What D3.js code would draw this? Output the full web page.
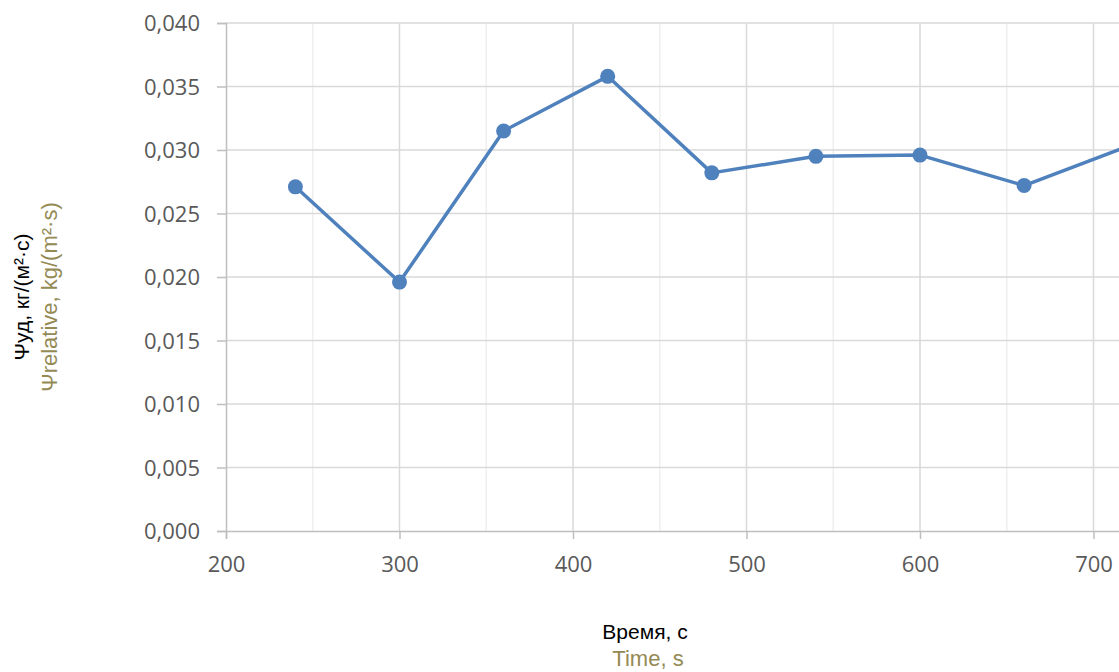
<!DOCTYPE html>
<html><head><meta charset="utf-8">
<script src="https://cdn.jsdelivr.net/npm/d3@7"></script>
<style>body{margin:0;background:#fff;} svg{display:block;}</style>
</head><body>
<svg id="chart" width="1119" height="672"></svg>
<script>
const times = [240, 300, 360, 420, 480, 540, 600, 660, 720];
const psi = [0.0271, 0.0196, 0.0315, 0.0358, 0.0282, 0.0295, 0.0296, 0.0272, 0.0303];
const xMajorTicks = [200, 300, 400, 500, 600, 700];
const xGridMajor = [300, 400, 500, 600, 700, 800];
const xMinorTicks = [250, 350, 450, 550, 650, 750];
const yTicks = [0, 0.005, 0.010, 0.015, 0.020, 0.025, 0.030, 0.035, 0.040];
const yTitleRu = "Ψуд, кг/(м²·с)";
const yTitleEn = "Ψrelative, kg/(m²·s)";
const xTitleRu = "Время, с";
const xTitleEn = "Time, s";

const svg = d3.select("#chart");
const font = "'Open Sans', 'Liberation Sans', Arial, sans-serif";
const titleFont = "'Liberation Sans', Arial, sans-serif";
const x = d3.scaleLinear().domain([200, 800]).range([226, 226 + 6 * 173.5]);
const y = d3.scaleLinear().domain([0, 0.04]).range([531, 23]);

// minor vertical gridlines
svg.append("g").selectAll("line").data(xMinorTicks).join("line")
  .attr("x1", d => x(d)).attr("x2", d => x(d)).attr("y1", y(0)).attr("y2", y(0.04))
  .attr("stroke", "#efefef").attr("stroke-width", 1.5);
// major vertical gridlines
svg.append("g").selectAll("line").data(xGridMajor).join("line")
  .attr("x1", d => x(d)).attr("x2", d => x(d)).attr("y1", y(0)).attr("y2", y(0.04))
  .attr("stroke", "#d9d9d9").attr("stroke-width", 1.5);
// horizontal gridlines
svg.append("g").selectAll("line").data(yTicks.slice(1)).join("line")
  .attr("x1", x(200)).attr("x2", 1119).attr("y1", d => y(d)).attr("y2", d => y(d))
  .attr("stroke", "#d9d9d9").attr("stroke-width", 1.5);

// axes
const fmt = d => d3.format(".3f")(d).replace(".", ",");
const yAxis = svg.append("g").attr("transform", `translate(${x(200)},0)`)
  .call(d3.axisLeft(y).tickValues(yTicks).tickFormat(fmt).tickSize(9).tickPadding(17));
const xAxis = svg.append("g").attr("transform", `translate(0,${y(0)})`)
  .call(d3.axisBottom(x).tickValues(xMajorTicks).tickFormat(d3.format("d")).tickSize(8).tickPadding(17));
[xAxis, yAxis].forEach(g => {
  g.select(".domain").attr("stroke", "#bfbfbf").attr("stroke-width", 1.5);
  g.selectAll(".tick line").attr("stroke", "#bfbfbf").attr("stroke-width", 1.5);
  g.selectAll("text").attr("fill", "#595959").style("font-family", font).style("font-size", "22px");
});
yAxis.selectAll("text").attr("dy", "0.35em");

// line and markers
const line = d3.line().x((d, i) => x(times[i])).y(d => y(d));
svg.append("path").datum(psi).attr("d", line)
  .attr("fill", "none").attr("stroke", "#4F81BD").attr("stroke-width", 3.5).attr("stroke-linejoin", "round");
svg.append("g").selectAll("circle").data(psi).join("circle")
  .attr("cx", (d, i) => x(times[i])).attr("cy", d => y(d)).attr("r", 7.5)
  .attr("fill", "#4F81BD");

// titles
svg.append("text").attr("transform", "translate(29,297) rotate(-90)")
  .attr("text-anchor", "middle").style("font-family", titleFont).style("font-size", "21px")
  .attr("fill", "#000").text(yTitleRu);
svg.append("text").attr("transform", "translate(57,297) rotate(-90)")
  .attr("text-anchor", "middle").style("font-family", titleFont).style("font-size", "22px")
  .attr("fill", "#948A54").text(yTitleEn);

svg.append("text").attr("x", 645).attr("y", 639)
  .attr("text-anchor", "middle").style("font-family", titleFont).style("font-size", "21px")
  .attr("fill", "#000").text(xTitleRu);
svg.append("text").attr("x", 648).attr("y", 666)
  .attr("text-anchor", "middle").style("font-family", titleFont).style("font-size", "22px")
  .attr("fill", "#948A54").text(xTitleEn);
</script>
</body></html>
